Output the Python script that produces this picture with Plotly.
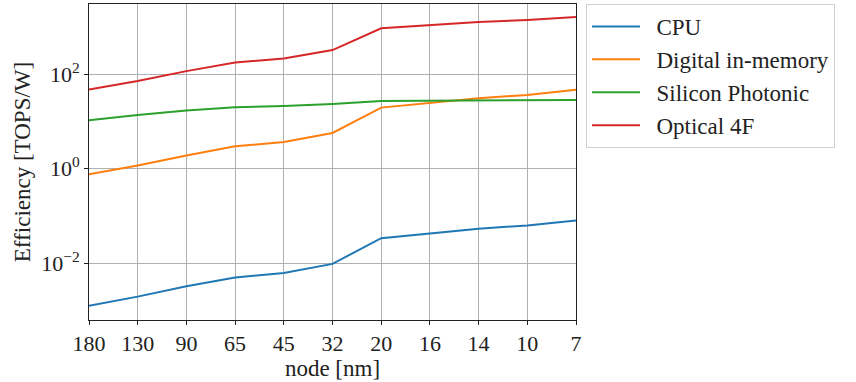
import plotly.graph_objects as go

nodes = ["180", "130", "90", "65", "45", "32", "20", "16", "14", "10", "7"]
cpu = [1.26e-3, 1.97e-3, 3.26e-3, 5.0e-3, 6.25e-3, 9.7e-3, 0.034, 0.043, 0.054, 0.063, 0.080]
digital = [0.76, 1.17, 1.91, 2.97, 3.66, 5.7, 19.6, 25, 31, 36.4, 47]
silicon = [10.6, 13.7, 17.0, 20.0, 21.2, 23.4, 27.1, 27.5, 28.5, 28.5, 28.5]
optical = [47.3, 72, 116, 177, 215, 323, 933, 1100, 1270, 1400, 1620]

series_names = ["CPU", "Digital in-memory", "Silicon Photonic", "Optical 4F"]
series_vals = [cpu, digital, silicon, optical]
colors = ["#1f77b4", "#ff7f0e", "#2ca02c", "#d62728"]

ytickvals = [1e-2, 1, 1e2]
yticktext = ["10<sup>−2</sup>", "10<sup>0</sup>", "10<sup>2</sup>"]

FONT = "Liberation Serif"
PAD = "\u00a0\u00a0"

fig = go.Figure()
for i, (name, vals, c) in enumerate(zip(series_names, series_vals, colors)):
    fig.add_trace(go.Scatter(x=nodes, y=vals, mode="lines", name=PAD + name,
                             line=dict(color=c, width=2), legendgroup=f"g{i}"))

fig.update_layout(
    width=856, height=382,
    margin=dict(l=89, r=280, t=4, b=62),
    paper_bgcolor="white", plot_bgcolor="white",
    font=dict(family=FONT, size=23, color="#222"),
    showlegend=True,
    legend=dict(x=1.0205, y=1.0, xanchor="left", yanchor="top",
                bordercolor="#d0d0d0", borderwidth=1, bgcolor="white",
                font=dict(family=FONT, size=23, color="#222"),
                traceorder="grouped", tracegroupgap=0,
                itemwidth=48),
    xaxis=dict(type="category", range=[0, 10], automargin=False,
               showgrid=True, gridcolor="#b0b0b0", gridwidth=1,
               showline=True, linecolor="#222", linewidth=1, mirror=True,
               ticks="outside", ticklen=4, tickcolor="#222",
               title=dict(text="node [nm]", standoff=0, font=dict(size=23)),
               tickfont=dict(size=22)),
    yaxis=dict(type="log", range=[-3.2, 3.484], automargin=False,
               tickvals=ytickvals, ticktext=yticktext,
               showgrid=True, gridcolor="#b0b0b0", gridwidth=1,
               showline=True, linecolor="#222", linewidth=1, mirror=True,
               ticks="outside", ticklen=4, tickcolor="#222",
               title=dict(text="Efficiency [TOPS/W]", standoff=4, font=dict(size=23)),
               tickfont=dict(size=22)),
)

fig.write_html("out.html", config={"displayModeBar": False},
               post_script="document.body.style.margin='0';document.body.style.overflow='hidden';")
